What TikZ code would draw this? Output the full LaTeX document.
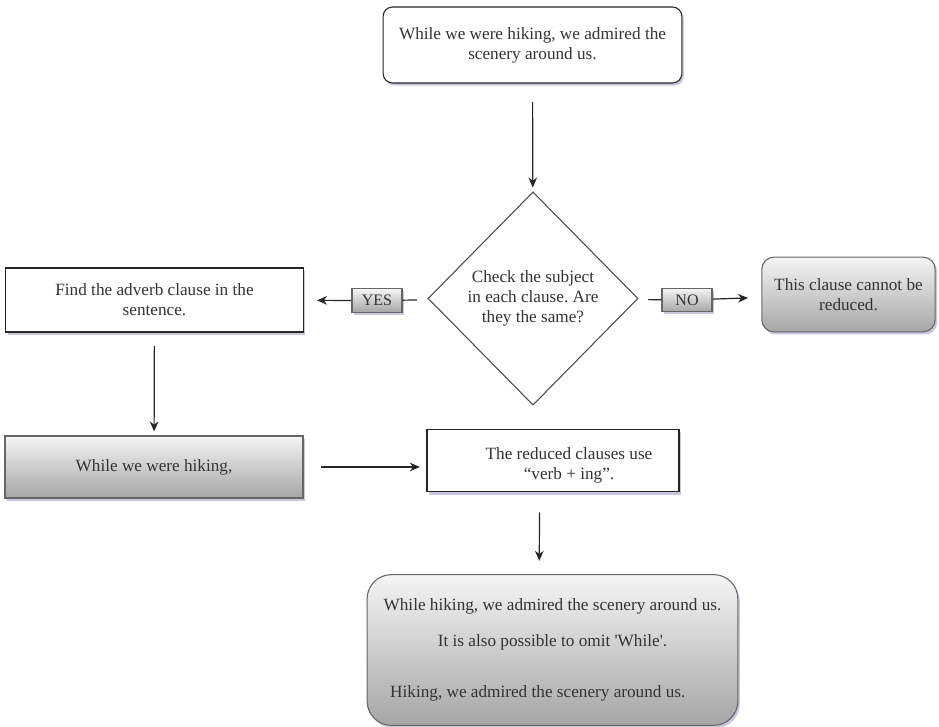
\documentclass[tikz,border=0pt]{standalone}
\usepackage{fontspec}
\setmainfont{Liberation Serif}
\usetikzlibrary{shapes.geometric,shadows,arrows.meta}
\frenchspacing

\begin{document}
\begin{tikzpicture}[x=0.75pt,y=-0.75pt,
  font=\fontsize{12.9}{15}\selectfont, text=black!80,
  softshadow/.style={drop shadow={shadow xshift=1.5pt,shadow yshift=-2pt,fill=blue!25!gray,opacity=0.35}},
  box/.style={draw=black!85, line width=0.8pt, fill=white, align=center, inner sep=2pt, softshadow},
  shadebox/.style={box, draw=black!60, top color=black!4, bottom color=black!35},
  tag/.style={shadebox, font=\fontsize{12}{14}\selectfont, minimum width=37.5pt, minimum height=17.5pt, inner sep=1pt},
  arr/.style={draw=black!85, line width=0.9pt, -{Stealth[length=7.5pt,width=6.5pt]}},
  link/.style={draw=black!85, line width=0.9pt}]

\useasboundingbox (0,0) rectangle (939,727);

\node[box, rounded corners=7pt, minimum width=224pt, minimum height=57pt] (start) at (532.5,45) {While we were hiking, we admired the\\scenery around us.};
\node[draw=black!70, line width=0.8pt, fill=white, align=center, diamond, minimum width=157.5pt, minimum height=160pt, inner sep=0pt] (check) at (533,298.5) {Check the subject\\in each clause. Are\\they the same?};

\node[box, minimum width=223pt, minimum height=48pt] (find) at (154.5,300) {Find the adverb clause in the\\sentence.};
\node[tag] (yes) at (377,300.5) {YES};
\node[tag] (no) at (687,300) {NO};
\node[shadebox, rounded corners=9pt, minimum width=130pt, minimum height=56pt] (stop) at (848.5,294.5) {This clause cannot be\\reduced.};

\node[shadebox, minimum width=223.5pt, minimum height=46.5pt] (hiking) at (154,467) {While we were hiking,};
\node[box, minimum width=189pt, minimum height=47pt] (reduced) at (553,460.5) {};
\node[align=center] (reducedtxt) at (569,465) {The reduced clauses use\\``verb + ing''.};

\node[shadebox, rounded corners=18pt, minimum width=278pt, minimum height=113pt] (result) at (552.5,650) {While hiking, we admired the scenery around us.\\[12pt]It is also possible to omit \textquotesingle While\textquotesingle.\\[23pt]Hiking, we admired the scenery around us.\hspace*{22pt}};

% arrows
\draw[arr, shorten <=14pt, shorten >=3pt] (start) -- (check);
\draw[link, shorten <=9pt] (check) -- (yes);
\draw[arr, shorten >=10pt] (yes) -- (find);
\draw[link, shorten <=8pt] (check) -- (no);
\draw[arr, shorten >=10pt] (no) -- (stop);
\draw[arr, shorten <=10pt, shorten >=3pt] (find) -- (hiking);
\draw[arr, shorten <=13pt, shorten >=5pt] (hiking) -- (hiking -| reduced.west);
\draw[arr, shorten <=15pt, shorten >=10pt] ([xshift=-10pt]reduced.south) -- ([xshift=-10pt]result.north);

\end{tikzpicture}
\end{document}
